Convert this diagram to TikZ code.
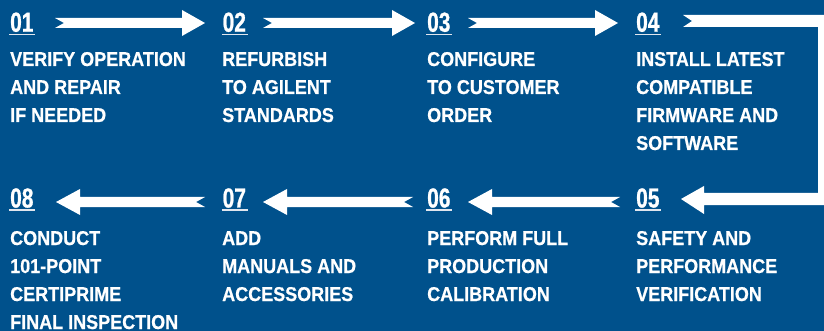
\documentclass[tikz,border=0pt]{standalone}
\usepackage{fontspec}
\newfontfamily\lblfont{Liberation Sans}[FakeStretch=0.9,FakeBold=0.6]
\newfontfamily\numfont{Liberation Sans}[FakeStretch=0.76,FakeBold=0.8]
\definecolor{bgblue}{RGB}{0,81,140}
\definecolor{ulgray}{RGB}{225,230,238}
\newcommand\myrarrow[3]{% tail x, tip x, y
  \fill[white] (#1,#3-5) -- (#2-23,#3-5) -- (#2-23,#3-13) -- (#2,#3) -- (#2-23,#3+13) -- (#2-23,#3+5) -- (#1,#3+5) -- (#1+9,#3) -- cycle;}
\newcommand\mylarrow[3]{% tail x, tip x, y
  \fill[white] (#1,#3-5) -- (#2+24,#3-5) -- (#2+24,#3-13) -- (#2,#3) -- (#2+24,#3+13) -- (#2+24,#3+5) -- (#1,#3+5) -- (#1-9,#3) -- cycle;}
\tikzset{
  num/.style={anchor=base west, inner sep=0pt, text=white, font=\numfont\bfseries\fontsize{27.5}{27.5}\selectfont},
  lbl/.style={anchor=base west, inner sep=0pt, text=white, align=left, font=\lblfont\bfseries\fontsize{20}{28}\selectfont},
  uline/.style={ulgray, line width=1.3pt},
}
\begin{document}
\begin{tikzpicture}[x=1pt,y=-1pt]
\fill[bgblue] (0,0) rectangle (824,331);
\useasboundingbox (0,0) rectangle (824,331);
% numbers
\foreach \n/\x/\y in {01/10/31.7, 02/222.5/31.7, 03/427/31.7, 04/636/31.7, 08/10/207.5, 07/222.5/207.5, 06/427/207.5, 05/636/207.5}{
  \node[num] (n\n) at (\x,\y) {\n};
  \draw[uline] ([xshift=-0.7pt,yshift=-2.6pt]n\n.base west) -- ([xshift=1.6pt,yshift=-2.6pt]n\n.base east);
}
% labels (anchor = baseline of the last line)
\node[lbl] (t01) at (10,122) {VERIFY OPERATION\\AND REPAIR\\IF NEEDED};
\node[lbl] (t02) at (222,122) {REFURBISH\\TO AGILENT\\STANDARDS};
\node[lbl] (t03) at (427,122) {CONFIGURE\\TO CUSTOMER\\ORDER};
\node[lbl] (t04) at (636,150) {INSTALL LATEST\\COMPATIBLE\\FIRMWARE AND\\SOFTWARE};
\node[lbl] (t08) at (10,329) {CONDUCT\\101-POINT\\CERTIPRIME\\FINAL INSPECTION};
\node[lbl] (t07) at (222,301) {ADD\\MANUALS AND\\ACCESSORIES};
\node[lbl] (t06) at (427,301) {PERFORM FULL\\PRODUCTION\\CALIBRATION};
\node[lbl] (t05) at (636,301) {SAFETY AND\\PERFORMANCE\\VERIFICATION};
% arrows
\myrarrow{55}{205}{23}
\myrarrow{263}{415}{23}
\myrarrow{468}{618}{23}
\fill[white] (683,15) -- (824,15) -- (824,205) -- (704,205) -- (704,214) -- (681,199) -- (704,186) -- (704,193) -- (818,193) -- (818,27) -- (683,27) -- (692,21) -- cycle;
\mylarrow{620}{468}{202}
\mylarrow{413}{263}{202}
\mylarrow{205}{56}{202}
\end{tikzpicture}
\end{document}
